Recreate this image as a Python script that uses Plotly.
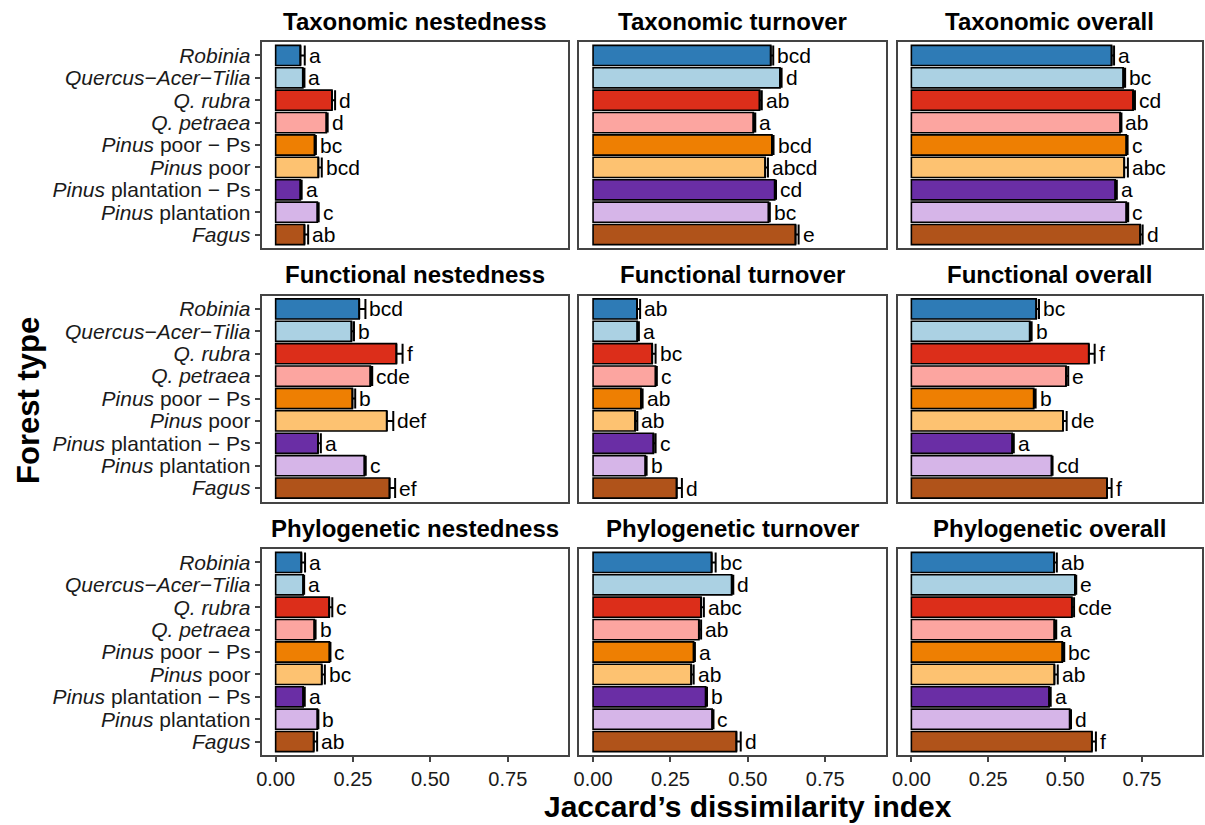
import plotly.graph_objects as go

# Forest types, top to bottom as they appear on the y axis
forest_types = [
    "<i>Robinia</i>",
    "<i>Quercus−Acer−Tilia</i>",
    "<i>Q. rubra</i>",
    "<i>Q. petraea</i>",
    "<i>Pinus</i> poor − Ps",
    "<i>Pinus</i> poor",
    "<i>Pinus</i> plantation − Ps",
    "<i>Pinus</i> plantation",
    "<i>Fagus</i>",
]

bar_colors = ["#2E7BB6", "#ABD1E3", "#DC2E1A", "#FCA5A0", "#EE7F02",
              "#FDC271", "#6A2EA5", "#D6B5E8", "#B0531A"]

panel_titles = [
    "Taxonomic nestedness", "Taxonomic turnover", "Taxonomic overall",
    "Functional nestedness", "Functional turnover", "Functional overall",
    "Phylogenetic nestedness", "Phylogenetic turnover", "Phylogenetic overall",
]

# Mean Jaccard dissimilarity per forest type
tax_nest_mean = [0.080, 0.088, 0.182, 0.164, 0.126, 0.138, 0.080, 0.135, 0.093]
tax_turn_mean = [0.574, 0.604, 0.538, 0.518, 0.578, 0.556, 0.587, 0.567, 0.654]
tax_over_mean = [0.651, 0.689, 0.721, 0.679, 0.699, 0.692, 0.663, 0.699, 0.744]
fun_nest_mean = [0.270, 0.245, 0.390, 0.306, 0.248, 0.359, 0.137, 0.287, 0.368]
fun_turn_mean = [0.142, 0.143, 0.191, 0.202, 0.155, 0.136, 0.195, 0.169, 0.270]
fun_over_mean = [0.406, 0.385, 0.577, 0.503, 0.398, 0.493, 0.328, 0.456, 0.636]
phy_nest_mean = [0.083, 0.089, 0.173, 0.125, 0.174, 0.149, 0.089, 0.135, 0.123]
phy_turn_mean = [0.383, 0.448, 0.349, 0.342, 0.325, 0.317, 0.364, 0.385, 0.463]
phy_over_mean = [0.464, 0.532, 0.522, 0.465, 0.491, 0.465, 0.448, 0.515, 0.587]

# Standard errors
tax_nest_se = [0.014, 0.005, 0.010, 0.004, 0.004, 0.011, 0.004, 0.004, 0.012]
tax_turn_se = [0.008, 0.005, 0.007, 0.006, 0.005, 0.009, 0.004, 0.004, 0.010]
tax_over_se = [0.008, 0.006, 0.006, 0.004, 0.004, 0.012, 0.005, 0.006, 0.008]
fun_nest_se = [0.020, 0.008, 0.020, 0.006, 0.009, 0.021, 0.009, 0.004, 0.018]
fun_turn_se = [0.010, 0.005, 0.011, 0.004, 0.005, 0.007, 0.007, 0.004, 0.017]
fun_over_se = [0.009, 0.006, 0.019, 0.007, 0.006, 0.012, 0.005, 0.003, 0.015]
phy_nest_se = [0.012, 0.003, 0.010, 0.004, 0.003, 0.010, 0.005, 0.003, 0.011]
phy_turn_se = [0.013, 0.005, 0.009, 0.007, 0.004, 0.008, 0.004, 0.004, 0.014]
phy_over_se = [0.009, 0.004, 0.007, 0.006, 0.006, 0.011, 0.005, 0.004, 0.013]

# Post-hoc group letters
tax_nest_grp = ["a", "a", "d", "d", "bc", "bcd", "a", "c", "ab"]
tax_turn_grp = ["bcd", "d", "ab", "a", "bcd", "abcd", "cd", "bc", "e"]
tax_over_grp = ["a", "bc", "cd", "ab", "c", "abc", "a", "c", "d"]
fun_nest_grp = ["bcd", "b", "f", "cde", "b", "def", "a", "c", "ef"]
fun_turn_grp = ["ab", "a", "bc", "c", "ab", "ab", "c", "b", "d"]
fun_over_grp = ["bc", "b", "f", "e", "b", "de", "a", "cd", "f"]
phy_nest_grp = ["a", "a", "c", "b", "c", "bc", "a", "b", "ab"]
phy_turn_grp = ["bc", "d", "abc", "ab", "a", "ab", "b", "c", "d"]
phy_over_grp = ["ab", "e", "cde", "a", "bc", "ab", "a", "d", "f"]

x_tick_vals = [0, 0.25, 0.5, 0.75]
x_tick_text = ["0.00", "0.25", "0.50", "0.75"]

panels = [
    (tax_nest_mean, tax_nest_se, tax_nest_grp),
    (tax_turn_mean, tax_turn_se, tax_turn_grp),
    (tax_over_mean, tax_over_se, tax_over_grp),
    (fun_nest_mean, fun_nest_se, fun_nest_grp),
    (fun_turn_mean, fun_turn_se, fun_turn_grp),
    (fun_over_mean, fun_over_se, fun_over_grp),
    (phy_nest_mean, phy_nest_se, phy_nest_grp),
    (phy_turn_mean, phy_turn_se, phy_turn_grp),
    (phy_over_mean, phy_over_se, phy_over_grp),
]

W, H = 1205, 825
col_px = [(257, 565), (576, 884), (896, 1202)]
row_px = [(42, 248), (295.5, 501.5), (549, 755)]

FONT = "Liberation Sans, Arial, sans-serif"
ypos = list(range(len(forest_types)))

fig = go.Figure()
layout = dict(
    width=W, height=H,
    margin=dict(l=0, r=0, t=0, b=0),
    paper_bgcolor="white", plot_bgcolor="white",
    showlegend=False,
    font=dict(family=FONT, color="black"),
    annotations=[],
)

for i, (mean, se, grp) in enumerate(panels):
    r, c = divmod(i, 3)
    k = i + 1
    xa = "x" if k == 1 else f"x{k}"
    ya = "y" if k == 1 else f"y{k}"

    fig.add_trace(go.Bar(
        x=mean, y=ypos, orientation="h", width=0.9,
        marker=dict(color=bar_colors, line=dict(color="black", width=1.6)),
        error_x=dict(type="data", symmetric=False, array=se,
                     arrayminus=[0] * len(se), color="black",
                     thickness=2, width=10),
        xaxis=xa, yaxis=ya, hoverinfo="skip",
    ))

    # group letters just to the right of each error bar
    for yv, m, s, g in zip(ypos, mean, se, grp):
        layout["annotations"].append(dict(
            text=g, x=m + s, y=yv, xref=xa, yref=ya,
            xanchor="left", yanchor="middle", xshift=2, showarrow=False,
            font=dict(family=FONT, size=21, color="black"),
        ))

    x0, x1 = col_px[c]
    y0, y1 = row_px[r]
    bottom_row = r == 2
    left_col = c == 0
    layout["xaxis" if k == 1 else f"xaxis{k}"] = dict(
        domain=[x0 / W, x1 / W], anchor=ya, range=[-0.045, 0.945],
        showline=True, mirror=True, linecolor="#444444", linewidth=2.2,
        showgrid=False, zeroline=False,
        tickvals=x_tick_vals, ticktext=x_tick_text,
        showticklabels=bottom_row,
        ticks="outside" if bottom_row else "", ticklen=5, tickwidth=1.5,
        tickcolor="#444444",
        tickfont=dict(family=FONT, size=20, color="#1a1a1a"),
    )
    layout["yaxis" if k == 1 else f"yaxis{k}"] = dict(
        domain=[1 - y1 / H, 1 - y0 / H], anchor=xa, range=[8.6, -0.6],
        showline=True, mirror=True, linecolor="#444444", linewidth=2.2,
        showgrid=False, zeroline=False,
        tickvals=ypos, ticktext=forest_types,
        showticklabels=left_col,
        ticks="outside" if left_col else "", ticklen=5, tickwidth=1.5,
        tickcolor="#444444",
        tickfont=dict(family=FONT, size=21, color="#1a1a1a"),
    )
    layout["annotations"].append(dict(
        text=f"<b>{panel_titles[i]}</b>", xref="paper", yref="paper",
        x=(x0 + x1) / 2 / W, y=1 - (y0 - 21) / H, xanchor="center",
        yanchor="middle", showarrow=False,
        font=dict(family=FONT, size=24, color="black"),
    ))

layout["annotations"].append(dict(
    text="<b>Jaccard’s dissimilarity index</b>", xref="paper", yref="paper",
    x=746 / W, y=1 - 806 / H, xanchor="center", yanchor="middle",
    showarrow=False, font=dict(family=FONT, size=30, color="black"),
))
layout["annotations"].append(dict(
    text="<b>Forest type</b>", xref="paper", yref="paper",
    x=22 / W, y=1 - 400 / H, xanchor="center", yanchor="middle",
    textangle=-90, showarrow=False,
    font=dict(family=FONT, size=31, color="black"),
))

fig.update_layout(**layout)
fig.write_html("out.html")
